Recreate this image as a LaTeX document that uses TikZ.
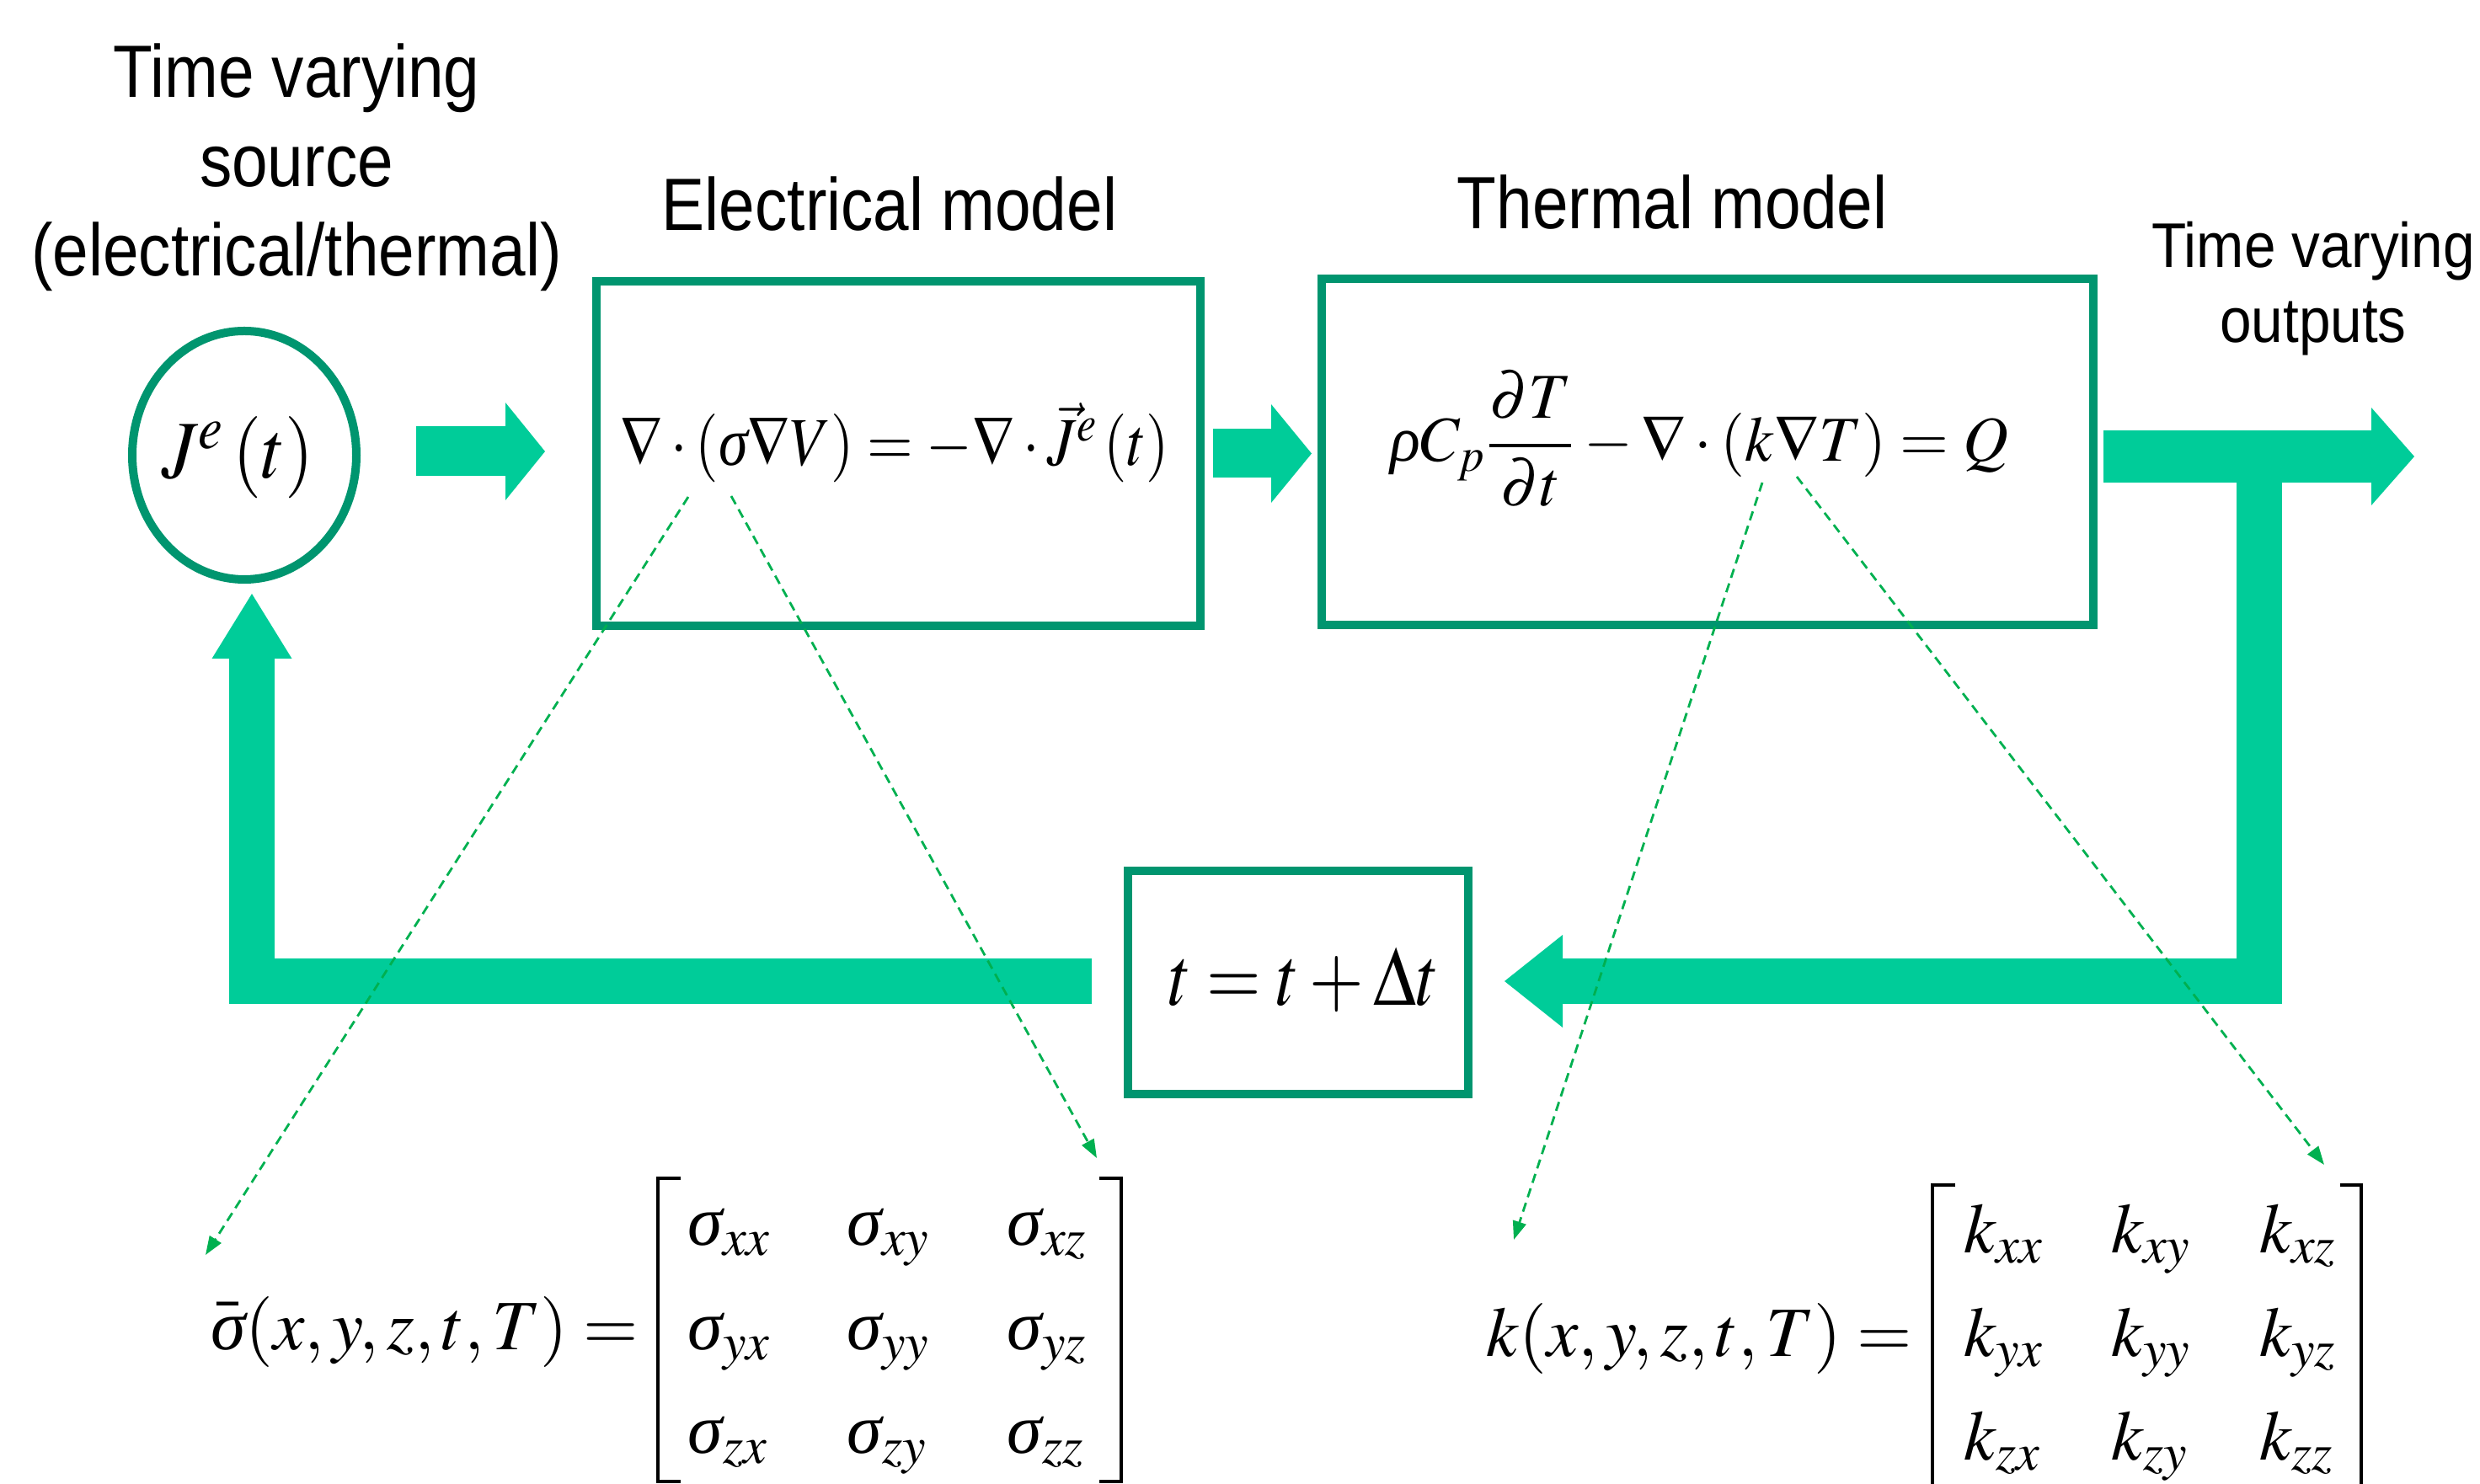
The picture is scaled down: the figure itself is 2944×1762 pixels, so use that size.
\documentclass[tikz,border=0pt]{standalone}
\usepackage[no-math]{fontspec}
\usepackage{mathptmx}
\usepackage{graphicx}
\usetikzlibrary{arrows.meta,calc,shapes.geometric}
\newfontfamily\labfont[FakeStretch=0.87]{Liberation Sans}
\newfontfamily\outfont[FakeStretch=0.9]{Liberation Sans}
\newfontfamily\tnrfont{Liberation Serif}
\newcommand{\isig}{\mbox{\tnrfont\itshape σ}}
\newcommand{\irho}{\mbox{\tnrfont\itshape ρ}}
\definecolor{boxgreen}{HTML}{00956F}
\definecolor{arrowgreen}{HTML}{00CC99}
\definecolor{dashgreen}{HTML}{00B050}
\tikzset{
  box/.style={draw=boxgreen, line width=2.5pt, inner sep=0pt},
  eqn/.style={inner sep=0pt, font=\fontsize{21}{25}\selectfont},
  lab/.style={inner sep=0pt, align=center, font=\labfont\fontsize{22}{26.5}\selectfont},
  outlab/.style={inner sep=0pt, align=center, font=\outfont\fontsize{18.75}{22.25}\selectfont},
  brk/.style={draw=black, line width=1pt},
  dashline/.style={draw=dashgreen, line width=0.7pt, dash pattern=on 2.75pt off 1.75pt,
    -{Triangle[length=5.5pt,width=4pt]}},
  blockarrow/.style={draw=arrowgreen, line cap=butt}
}
\begin{document}
\begin{tikzpicture}[x=0.25pt,y=-0.25pt]
\useasboundingbox (0,0) rectangle (2944,1762);

% main nodes
\node[box, ellipse, minimum width=66.5pt, minimum height=73.75pt] (circ) at (290,540.5) {};
\node[box, minimum width=179.25pt, minimum height=102.25pt] (elec) at (1066.5,538.5) {};
\node[box, minimum width=229pt, minimum height=102.75pt] (therm) at (2027,536.5) {};
\node[box, minimum width=101pt, minimum height=66.25pt] (tbox) at (1541,1166.5) {};

% labels (anchor base = baseline of the last line)
\node[lab, anchor=base] (srcLab) at (352,328) {Time varying\\source\\(electrical/thermal)};
\node[lab, anchor=base] (elecLab) at (1056,274) {Electrical model};
\node[lab, anchor=base] (thermLab) at (1985,272) {Thermal model};
\node[outlab, anchor=base] (outLab) at (2746,407) {Time varying\\outputs};

% equations
\node[eqn, anchor=base west] (eqJ) at (192,568) {\resizebox{45pt}{18.25pt}{$J^{e}\left(t\right)$}};
\node[eqn, anchor=base west] (eqE) at (736,553) {\resizebox{162.75pt}{18.75pt}{$\nabla\cdot\left(\isig\nabla V\right)=-\nabla\cdot\vec{J}^{e}\left(t\right)$}};
\node[eqn, anchor=base west] (eqT) at (1650,548) {\resizebox{183.25pt}{27pt}{$\irho C_{p}\displaystyle\frac{\partial T}{\partial t}-\nabla\cdot\left(k\nabla T\right)=Q$}};
\node[eqn, anchor=base west] (eqt) at (1387,1193) {\resizebox{80pt}{17pt}{$t=t+\Delta t$}};

% block arrows
\draw[blockarrow, line width=14.75pt, -{Triangle[length=11.75pt,width=29pt,line width=0pt]}]
  ($(circ.east)+(66,-4.5)$) -- ($(elec.west)+(-56,-2.5)$);
\draw[blockarrow, line width=14.5pt, -{Triangle[length=12pt,width=29.25pt,line width=0pt]}]
  ($(elec.east)+(10,0)$) -- ($(therm.west)+(-7,2)$);
\coordinate (junc) at ($(therm.east)+(192,5.5)$);
\coordinate (outtip) at ($(therm.east)+(376,5.5)$);
\draw[blockarrow, line width=15.5pt, -{Triangle[length=12.75pt,width=29pt,line width=0pt]}]
  ($(therm.east)+(7,5.5)$) -- (outtip);
\draw[blockarrow, line width=13.5pt, -{Triangle[length=17.25pt,width=27.5pt,line width=0pt]}]
  (junc) |- ($(tbox.east)+(38,-1.5)$);
\draw[blockarrow, line width=13.5pt, -{Triangle[length=19.25pt,width=23.75pt,line width=0pt]}]
  ($(tbox.west)+(-38,-1.5)$) -| ($(circ.south)+(9,12)$);

% tensor equations
\node[eqn, anchor=base east] (sigL) at (759,1602) {$\bar{\isig}(x, y, z, t, T) =$};
\node[eqn, anchor=base west] (s11) at (816,1478) {$\isig_{xx}$};
\node[eqn, anchor=base west] (s12) at (1005,1478) {$\isig_{xy}$};
\node[eqn, anchor=base west] (s13) at (1195,1478) {$\isig_{xz}$};
\node[eqn, anchor=base west] (s21) at (816,1602) {$\isig_{yx}$};
\node[eqn, anchor=base west] (s22) at (1005,1602) {$\isig_{yy}$};
\node[eqn, anchor=base west] (s23) at (1195,1602) {$\isig_{yz}$};
\node[eqn, anchor=base west] (s31) at (816,1725) {$\isig_{zx}$};
\node[eqn, anchor=base west] (s32) at (1005,1725) {$\isig_{zy}$};
\node[eqn, anchor=base west] (s33) at (1195,1725) {$\isig_{zz}$};
\draw[brk] (808,1399) -- (781,1399) -- (781,1759) -- (808,1759);
\draw[brk] (1305,1399) -- (1331,1399) -- (1331,1759) -- (1305,1759);

\node[eqn, anchor=base east] (kL) at (2271,1610) {$k(x, y, z, t, T) =$};
\node[eqn, anchor=base west] (k11) at (2331,1487) {$k_{xx}$};
\node[eqn, anchor=base west] (k12) at (2506,1487) {$k_{xy}$};
\node[eqn, anchor=base west] (k13) at (2682,1487) {$k_{xz}$};
\node[eqn, anchor=base west] (k21) at (2331,1610) {$k_{yx}$};
\node[eqn, anchor=base west] (k22) at (2506,1610) {$k_{yy}$};
\node[eqn, anchor=base west] (k23) at (2682,1610) {$k_{yz}$};
\node[eqn, anchor=base west] (k31) at (2331,1733) {$k_{zx}$};
\node[eqn, anchor=base west] (k32) at (2506,1733) {$k_{zy}$};
\node[eqn, anchor=base west] (k33) at (2682,1733) {$k_{zz}$};
\draw[brk] (2321,1407) -- (2294,1407) -- (2294,1767) -- (2321,1767);
\draw[brk] (2778,1407) -- (2803,1407) -- (2803,1767) -- (2778,1767);

% dashed pointers
\coordinate (d1a) at (817,590);  \coordinate (d1b) at (244,1490);
\coordinate (d2a) at (868,589);  \coordinate (d2b) at (1302,1375);
\coordinate (d3a) at (2092,573); \coordinate (d3b) at (1797,1472);
\coordinate (d4a) at (2133,566); \coordinate (d4b) at (2759,1383);
\draw[dashline] (d1a) -- (d1b);
\draw[dashline] (d2a) -- (d2b);
\draw[dashline] (d3a) -- (d3b);
\draw[dashline] (d4a) -- (d4b);
\end{tikzpicture}
\end{document}
